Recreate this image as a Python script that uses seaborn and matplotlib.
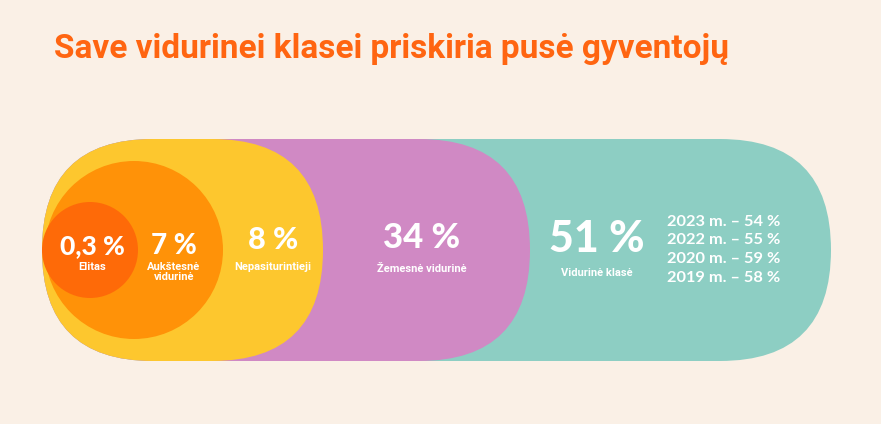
import matplotlib
matplotlib.use("Agg")
import matplotlib.pyplot as plt
from matplotlib.patches import FancyBboxPatch, Circle
import seaborn as sns

# ---- data ----
categories = ["Elitas", "Aukštesnė\nvidurinė", "Nepasiturintieji", "Žemesnė vidurinė", "Vidurinė klasė"]
values = ["0,3 %", "7 %", "8 %", "34 %", "51 %"]
years = ["2023 m.", "2022 m.", "2020 m.", "2019 m."]
year_values = [54, 55, 59, 58]
title = "Save vidurinei klasei priskiria pusė gyventojų"

# ---- style ----
sns.set_theme(style="white")
BG = "#FAF0E6"
colors = ["#FE6A08", "#FF9208", "#FDC72E", "#D089C4", "#8DCEC3"]

fig = plt.figure(figsize=(8.81, 4.24), dpi=100, facecolor=BG)
ax = fig.add_axes([0, 0, 1, 1])
ax.set_facecolor(BG)
ax.set_xlim(0, 881)
ax.set_ylim(424, 0)
ax.axis("off")

# layout (pixel units): shapes drawn back to front
H = 222
TOP = 139
R = H / 2
stadiums = [  # (left, right, colour index)
    (42, 831, 4),
    (42, 530, 3),
    (42, 323, 2),
]
for left, right, ci in stadiums:
    ax.add_patch(FancyBboxPatch((left, TOP), right - left, H,
                                boxstyle=f"round,pad=0,rounding_size={R}",
                                fc=colors[ci], ec="none"))
ax.add_patch(Circle((134, 250), 89, fc=colors[1], ec="none"))
ax.add_patch(Circle((90, 250), 48, fc=colors[0], ec="none"))

num_font = ["Lato", "DejaVu Sans"]
lab_font = ["Roboto", "DejaVu Sans"]

# (x, value baseline, value size, label top)
text_layout = [
    (92, 254, 19, 262),
    (174, 254, 20, 262),
    (273, 249, 22, 262),
    (422, 248, 25, 264),
    (597, 252, 31, 268),
]
for (x, yb, fs, lt), v, c in zip(text_layout, values, categories):
    ax.text(x, yb, v, ha="center", va="baseline", color="white",
            fontsize=fs, fontweight="black", family=num_font)
    ax.text(x, lt, c, ha="center", va="top", color="white",
            fontsize=8, fontweight="bold", family=lab_font, linespacing=1.05)

year_baselines = [226, 244, 263, 282]
for yb, yr, yv in zip(year_baselines, years, year_values):
    ax.text(724, yb, f"{yr} – {yv} %", ha="center", va="baseline", color="white",
            fontsize=11.8, fontweight="bold", family=num_font)

ax.text(54, 58, title, ha="left", va="baseline", color="#FF6511",
        fontsize=24, fontweight="bold", family=["Roboto", "DejaVu Sans"])

fig.savefig("out.png", dpi=100, facecolor=BG)
